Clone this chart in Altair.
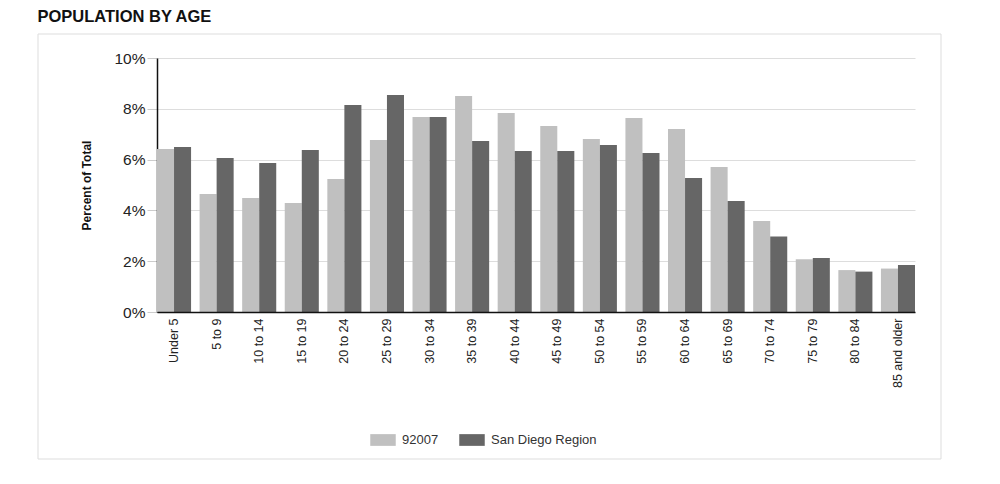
import altair as alt
import pandas as pd

categories = ["Under 5", "5 to 9", "10 to 14", "15 to 19", "20 to 24", "25 to 29",
              "30 to 34", "35 to 39", "40 to 44", "45 to 49", "50 to 54", "55 to 59",
              "60 to 64", "65 to 69", "70 to 74", "75 to 79", "80 to 84", "85 and older"]
series = ["92007", "San Diego Region"]
vals_92007 = [6.42, 4.65, 4.49, 4.29, 5.24, 6.77, 7.68, 8.50, 7.83, 7.32, 6.81, 7.64,
              7.20, 5.71, 3.58, 2.08, 1.65, 1.71]
vals_sd = [6.50, 6.06, 5.87, 6.38, 8.15, 8.54, 7.68, 6.73, 6.34, 6.34, 6.57, 6.26,
           5.28, 4.37, 2.97, 2.13, 1.59, 1.85]
colors = ["#c0c0c0", "#666666"]

rows = []
for c, a, b in zip(categories, vals_92007, vals_sd):
    rows.append({"age": c, "series": series[0], "value": a / 100})
    rows.append({"age": c, "series": series[1], "value": b / 100})
df = pd.DataFrame(rows)

FONT = "Liberation Sans"

frame = alt.Chart(alt.Data(values=[{}])).mark_rect(
    fill="white", fillOpacity=0, stroke="#dddddd", strokeWidth=1, strokeOpacity=1
).encode(
    x=alt.value(-119), x2=alt.value(784), y=alt.value(-24), y2=alt.value(401)
)

bars = alt.Chart(df).mark_bar().encode(
    x=alt.X("age:N", sort=categories, title=None,
            scale=alt.Scale(paddingInner=0.2, paddingOuter=0),
            axis=alt.Axis(labelAngle=-90, labelFontSize=12.5, labelColor="#222",
                          labelFont=FONT, ticks=False, domainColor="#111",
                          domainWidth=1.5, labelPadding=6, grid=False, zindex=1)),
    xOffset=alt.XOffset("series:N", sort=series, scale=alt.Scale(paddingInner=0, paddingOuter=0)),
    y=alt.Y("value:Q", title="Percent of Total",
            scale=alt.Scale(domain=[0, 0.1], nice=False),
            axis=alt.Axis(format=".0%", values=[0, 0.02, 0.04, 0.06, 0.08, 0.1],
                          labelFontSize=15.5, labelColor="#222", labelFont=FONT,
                          tickColor="#cccccc", tickSize=10, domainColor="#111",
                          domainWidth=1.5, grid=True, gridColor="#dddddd", labelPadding=2,
                          titleFont=FONT, titleFontSize=12, titleFontWeight="bold",
                          titleColor="#111", titlePadding=20)),
    color=alt.Color("series:N", sort=series,
                    scale=alt.Scale(domain=series, range=colors),
                    legend=alt.Legend(title=None, orient="none", direction="horizontal",
                                      legendX=213, legendY=369,
                                      symbolType="M-1,-0.46H1V0.46H-1Z", symbolSize=650,
                                      symbolStrokeWidth=0, symbolOpacity=1,
                                      labelFont=FONT, labelFontSize=13, labelColor="#333",
                                      labelOffset=6, columnPadding=20)),
)

chart = alt.layer(frame, bars).properties(
    width=758, height=254,
    title=alt.TitleParams("POPULATION BY AGE", anchor="start", fontSize=16.5,
                          fontWeight="bold", font=FONT, color="#111", offset=8),
    padding={"left": 37, "top": 9, "right": 10, "bottom": 10},
).configure_view(stroke=None)

chart.save("out.html", embed_options={"renderer": "svg", "actions": False})
